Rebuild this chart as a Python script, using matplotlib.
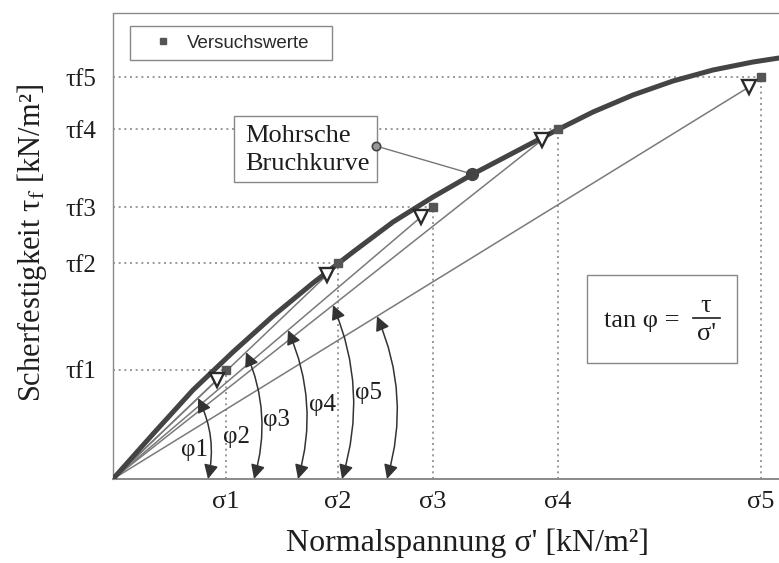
import matplotlib
matplotlib.use("Agg")
import matplotlib.pyplot as plt
from matplotlib.patches import Rectangle

plt.rcParams['font.family'] = ['Liberation Serif', 'DejaVu Serif']
plt.rcParams['mathtext.fontset'] = 'stix'

# ---- data (arbitrary units) ----
sigma = [113, 225, 320, 445, 648]          # σ1..σ5 (test points)
tau = [109, 216, 272, 350, 402]            # τf1..τf5
sigma_labels = ['σ1', 'σ2', 'σ3', 'σ4', 'σ5']
tau_labels = ['τf1', 'τf2', 'τf3', 'τf4', 'τf5']

# Mohr failure envelope
curve_x = [0, 40, 80, 120, 160, 200, 240, 280, 320, 360, 400, 440, 480, 520, 560, 600, 640, 666]
curve_y = [0, 45, 89, 127, 163, 196, 227, 257, 282, 305, 326, 347, 367, 384, 398, 409, 417, 421]

# open triangles at the ends of the secant lines
tri_x = [104, 214, 308, 429, 636]
tri_y = [99, 204, 262, 339, 392]

# angle arrows φ1..φ5: x of the tip on the secant, x of the tip on the σ-axis
phi_top_x = [85, 133, 175, 220, 264]
phi_bot_x = [95, 141, 185, 229, 274]
phi_labels = ['φ1', 'φ2', 'φ3', 'φ4', 'φ5']
phi_label_x = [82, 124, 164, 209, 255]
phi_label_y = [29, 42, 59, 74, 86]

# annotation point on curve and at the box
mohr_pt = (359, 305)
mohr_box_pt = (263, 333)

W, H = 779, 563
fig = plt.figure(figsize=(W / 100, H / 100), dpi=100)
ax = fig.add_axes([113 / W, (H - 479) / H, 666 / W, 466 / H])
ax.set_xlim(0, 666)
ax.set_ylim(0, 466)

dark = '#333333'
txt = '#1e1e1e'

# dotted guide lines
for s, t in zip(sigma, tau):
    ax.hlines(t, 0, s, colors='#8a8a8a', linestyles=(0, (1.2, 2.2)), lw=1.2, zorder=1)
    ax.vlines(s, 0, t, colors='#8a8a8a', linestyles=(0, (1.2, 2.2)), lw=1.2, zorder=1)

# secant lines
for x, y in zip(tri_x, tri_y):
    ax.plot([0, x], [0, y], color='#7a7a7a', lw=1.1, zorder=2)

# Mohr curve
ax.plot(curve_x, curve_y, color='#444444', lw=3.6, solid_capstyle='round',
        solid_joinstyle='round', zorder=4)

# test values
sq, = ax.plot(sigma, tau, 's', color='#555555', ms=5.5, zorder=5, linestyle='none',
              label='Versuchswerte')
ax.plot(tri_x, tri_y, 'v', mfc='white', mec='#2a2a2a', mew=1.7, ms=10, zorder=6, linestyle='none')

# angle arrows
for i in range(5):
    slope = tri_y[i] / tri_x[i]
    xt = phi_top_x[i]
    ax.annotate('', xy=(phi_bot_x[i], 0), xytext=(xt, slope * xt),
                arrowprops=dict(arrowstyle='<|-|>,head_length=0.5,head_width=0.25',
                                connectionstyle='arc3,rad=-0.18', color=dark, lw=1.1,
                                shrinkA=0, shrinkB=0, mutation_scale=17),
                zorder=3, annotation_clip=False)
    ax.text(phi_label_x[i], phi_label_y[i], phi_labels[i], fontsize=18,
            ha='center', va='center', color=txt, zorder=3)

# Mohrsche Bruchkurve box
ax.add_patch(Rectangle((121, 297), 143, 66, facecolor='white', edgecolor='#888888', lw=1.0, zorder=3))
ax.text(132, 329, 'Mohrsche\nBruchkurve', fontsize=19, ha='left', va='center',
        linespacing=1.3, color=txt, zorder=3.5)
ax.plot([mohr_box_pt[0], mohr_pt[0]], [mohr_box_pt[1], mohr_pt[1]], color='#777777', lw=1.0, zorder=4)
ax.plot(*mohr_box_pt, 'o', ms=6, mfc='#999999', mec='#444444', mew=1.2, zorder=5)
ax.plot(*mohr_pt, 'o', ms=8.5, color='#444444', zorder=5)

# tan φ box
ax.add_patch(Rectangle((474, 116), 150, 88, facecolor='white', edgecolor='#888888', lw=1.0, zorder=3))
ax.text(529, 158, 'tan φ =', fontsize=19, ha='center', va='center', color=txt, zorder=4)
ax.text(593, 173, 'τ', fontsize=19, ha='center', va='center', color=txt, zorder=4)
ax.text(593, 145, "σ'", fontsize=19, ha='center', va='center', color=txt, zorder=4)
ax.plot([580, 607], [161, 161], color=txt, lw=1.2, zorder=4)

# legend
leg = ax.legend(handles=[sq], loc='upper left',
                bbox_to_anchor=(17 / 666, (453 - 100) / 466, 202 / 666, 100 / 466),
                mode='expand', borderaxespad=0, borderpad=0.45, handlelength=2.67,
                handletextpad=-0.1, fancybox=False, framealpha=1, markerscale=0.9,
                prop={'family': 'Liberation Sans', 'size': 13.5})
leg.get_frame().set_edgecolor('#888888')
leg.get_frame().set_linewidth(1.0)
for t in leg.get_texts():
    t.set_color('#2a2a2a')

# ticks
ax.set_xticks(sigma)
ax.set_xticklabels(sigma_labels, fontsize=19)
ax.set_yticks(tau)
ax.set_yticklabels(tau_labels, fontsize=18)
ax.tick_params(length=0, pad=9, colors=txt)
ax.tick_params(axis='y', pad=12)

ax.spines['right'].set_visible(False)
for side in ['top', 'left']:
    ax.spines[side].set_color('#8a8a8a')
    ax.spines[side].set_linewidth(1.0)
    ax.spines[side].set_linestyle((0, (6, 1)))
ax.spines['bottom'].set_color('#8a8a8a')
ax.spines['bottom'].set_linewidth(1.4)

fig.text(32 / W, 1 - 243 / H, r'Scherfestigkeit τ$_\mathrm{f}$ [kN/m²]', rotation=90,
         ha='center', va='center', fontsize=22, color=txt)
fig.text(467 / W, 1 - 543 / H, "Normalspannung σ' [kN/m²]", ha='center', va='center',
         fontsize=23, color=txt)

fig.savefig('out.png', dpi=100)
